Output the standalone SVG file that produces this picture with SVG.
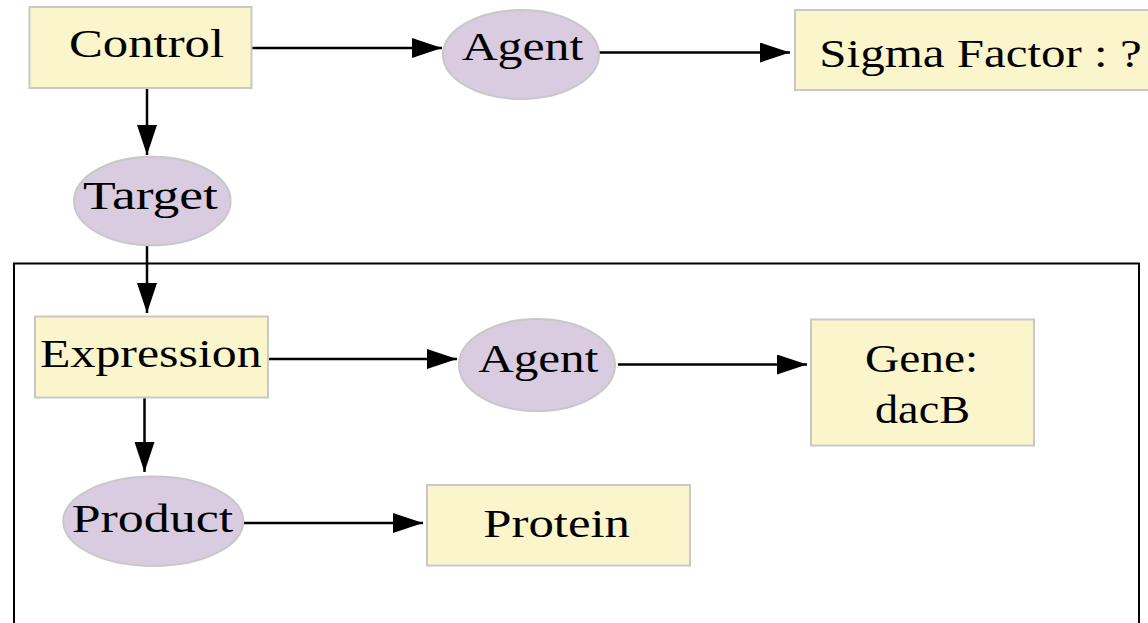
<svg xmlns="http://www.w3.org/2000/svg" width="1148" height="623" viewBox="0 0 1148 623">
  <style>
    .box { fill: #fbf5cc; stroke: #c8c8c8; stroke-width: 2; }
    .ell { fill: #d9cce0; stroke: #c8c8c8; stroke-width: 2; }
    .lbl { font-family: "Liberation Serif", "Times New Roman", serif; font-size: 41px; fill: #000; }
    .edge { stroke: #000; stroke-width: 2.5; fill: none; marker-end: url(#head); }
    .frame { fill: none; stroke: #000; stroke-width: 2; }
  </style>
  <defs>
    <marker id="head" viewBox="0 0 30 20" markerWidth="30" markerHeight="20" refX="30" refY="10" orient="auto" markerUnits="userSpaceOnUse">
      <path d="M0,0 L30,10 L0,20 z" fill="#000"/>
    </marker>
  </defs>

  <rect id="cluster" class="frame" x="14" y="263.5" width="1125" height="400"/>

  <g id="connectors">
    <line class="edge" x1="251" y1="48" x2="442" y2="48"/>
    <line class="edge" x1="599" y1="52.5" x2="790" y2="52.5"/>
    <line class="edge" x1="147" y1="88" x2="147" y2="155"/>
    <line class="edge" x1="147" y1="245" x2="147" y2="313"/>
    <line class="edge" x1="263" y1="359" x2="457" y2="359"/>
    <line class="edge" x1="618" y1="364.5" x2="807" y2="364.5"/>
    <line class="edge" x1="144.5" y1="398" x2="144.5" y2="472"/>
    <line class="edge" x1="243" y1="523" x2="423" y2="523"/>
  </g>

  <g id="control">
    <rect class="box" x="29.5" y="7" width="222" height="81"/>
    <text class="lbl" x="69" y="57.3" textLength="155" lengthAdjust="spacingAndGlyphs">Control</text>
  </g>

  <g id="agent-top">
    <ellipse class="ell" cx="521" cy="54.5" rx="78" ry="44.5"/>
    <text class="lbl" x="461.7" y="59.5" textLength="121.6" lengthAdjust="spacingAndGlyphs">Agent</text>
  </g>

  <g id="sigma-factor">
    <rect class="box" x="795" y="10" width="370" height="80"/>
    <text class="lbl" x="819.3" y="66.7" textLength="322.4" lengthAdjust="spacingAndGlyphs">Sigma Factor : ?</text>
  </g>

  <g id="target">
    <ellipse class="ell" cx="152.3" cy="201" rx="78.3" ry="44.3"/>
    <text class="lbl" x="83" y="209.3" textLength="135" lengthAdjust="spacingAndGlyphs">Target</text>
  </g>

  <g id="expression">
    <rect class="box" x="35" y="316.5" width="233" height="81"/>
    <text class="lbl" x="40" y="366.7" textLength="221.7" lengthAdjust="spacingAndGlyphs">Expression</text>
  </g>

  <g id="agent-bottom">
    <ellipse class="ell" cx="537" cy="365" rx="78" ry="46"/>
    <text class="lbl" x="478.3" y="371.7" textLength="120" lengthAdjust="spacingAndGlyphs">Agent</text>
  </g>

  <g id="gene">
    <rect class="box" x="811" y="319.5" width="223" height="126"/>
    <text class="lbl" x="865" y="371.7" textLength="113.3" lengthAdjust="spacingAndGlyphs">Gene:</text>
    <text class="lbl" x="875" y="423.3" textLength="95" lengthAdjust="spacingAndGlyphs">dacB</text>
  </g>

  <g id="product">
    <ellipse class="ell" cx="153.3" cy="521.3" rx="90" ry="44.7"/>
    <text class="lbl" x="71.7" y="531.7" textLength="161.6" lengthAdjust="spacingAndGlyphs">Product</text>
  </g>

  <g id="protein">
    <rect class="box" x="427" y="485" width="263" height="80.5"/>
    <text class="lbl" x="483.3" y="536.7" textLength="146.7" lengthAdjust="spacingAndGlyphs">Protein</text>
  </g>
</svg>
